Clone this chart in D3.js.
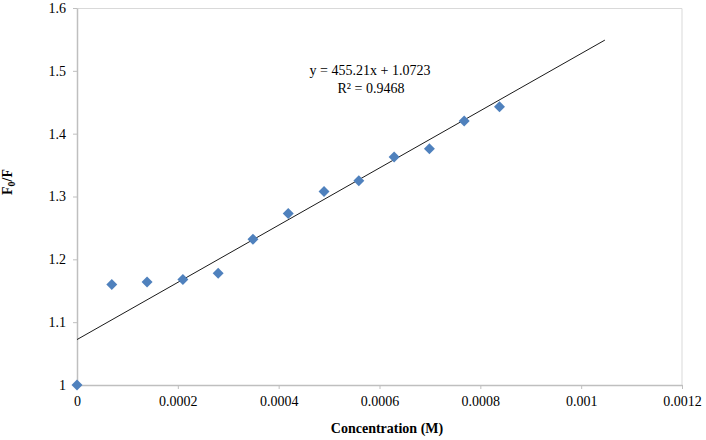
<!DOCTYPE html>
<html>
<head>
<meta charset="utf-8">
<script src="https://cdn.jsdelivr.net/npm/d3@7"></script>
<style>
  body { margin: 0; background: #fff; }
  #chart { width: 706px; height: 440px; }
  text { font-family: "Liberation Serif", "Times New Roman", serif; fill: #000; }
</style>
</head>
<body>
<div id="chart"></div>
<script>
// concentration (M) and F0/F
const concentration = [0, 0.000069, 0.000139, 0.000210, 0.000280, 0.000349, 0.000419,
  0.000490, 0.000559, 0.000629, 0.000699, 0.000768, 0.000838];
const ratio = [1.000, 1.160, 1.164, 1.168, 1.178, 1.232, 1.273,
  1.308, 1.325, 1.363, 1.376, 1.420, 1.443];
const xTicks = [0, 0.0002, 0.0004, 0.0006, 0.0008, 0.001, 0.0012];
const yTicks = [1, 1.1, 1.2, 1.3, 1.4, 1.5, 1.6];
const slope = 455.21, intercept = 1.0723;
const trendEnd = 0.001047;

const width = 706, height = 440;
const margin = { top: 8, right: 24, bottom: 55, left: 77 };
const w = width - margin.left - margin.right;
const h = height - margin.top - margin.bottom;

const svg = d3.select('#chart').append('svg').attr('width', width).attr('height', height);
const g = svg.append('g').attr('transform', `translate(${margin.left},${margin.top})`);

const x = d3.scaleLinear().domain([0, 0.0012]).range([0, w]);
const y = d3.scaleLinear().domain([1, 1.6]).range([h, 0]);

// plot area border (top / right)
g.append('path')
  .attr('d', `M0,0.5H${w}V${h}`)
  .attr('fill', 'none').attr('stroke', '#d9d9d9').attr('stroke-width', 1);

const xAxis = g.append('g').attr('transform', `translate(0,${h})`)
  .call(d3.axisBottom(x).tickValues(xTicks).tickSize(4).tickSizeOuter(0).tickPadding(7)
    .tickFormat(d => d === 0 ? '0' : String(+d.toFixed(4))));
const yAxis = g.append('g')
  .call(d3.axisLeft(y).tickValues(yTicks).tickSize(4).tickSizeOuter(0).tickPadding(7)
    .tickFormat(d => String(+d.toFixed(1))));
[xAxis, yAxis].forEach(a => {
  a.select('.domain').attr('stroke', '#bfbfbf').attr('stroke-width', 1.5);
  a.selectAll('.tick line').attr('stroke', '#bfbfbf');
  a.selectAll('.tick text').attr('font-size', 14).attr('font-family', '"Liberation Serif", serif');
});

// linear trend line
g.append('line')
  .attr('x1', x(0)).attr('y1', y(intercept))
  .attr('x2', x(trendEnd)).attr('y2', y(intercept + slope * trendEnd))
  .attr('stroke', '#1a1a1a').attr('stroke-width', 1);

// markers
const diamond = d3.symbol(d3.symbolSquare, 60);
g.selectAll('path.pt').data(concentration).enter().append('path')
  .attr('class', 'pt')
  .attr('d', diamond)
  .attr('transform', (d, i) => `translate(${x(d)},${y(ratio[i])}) rotate(45)`)
  .attr('fill', '#4f81bd');

// equation
g.append('text').attr('x', 293).attr('y', 67).attr('text-anchor', 'middle')
  .attr('font-size', 14).text('y = 455.21x + 1.0723');
g.append('text').attr('x', 294).attr('y', 85).attr('text-anchor', 'middle')
  .attr('font-size', 14).text('R² = 0.9468');

// axis titles
svg.append('text').attr('x', 387).attr('y', 433).attr('text-anchor', 'middle')
  .attr('font-size', 14).attr('font-weight', 'bold').text('Concentration (M)');
const yt = svg.append('text').attr('transform', 'translate(12,182) rotate(-90)')
  .attr('text-anchor', 'middle').attr('font-size', 14).attr('font-weight', 'bold');
yt.append('tspan').text('F');
yt.append('tspan').attr('font-size', 10).attr('dy', 3).text('0');
yt.append('tspan').attr('dy', -3).text('/F');
</script>
</body>
</html>
